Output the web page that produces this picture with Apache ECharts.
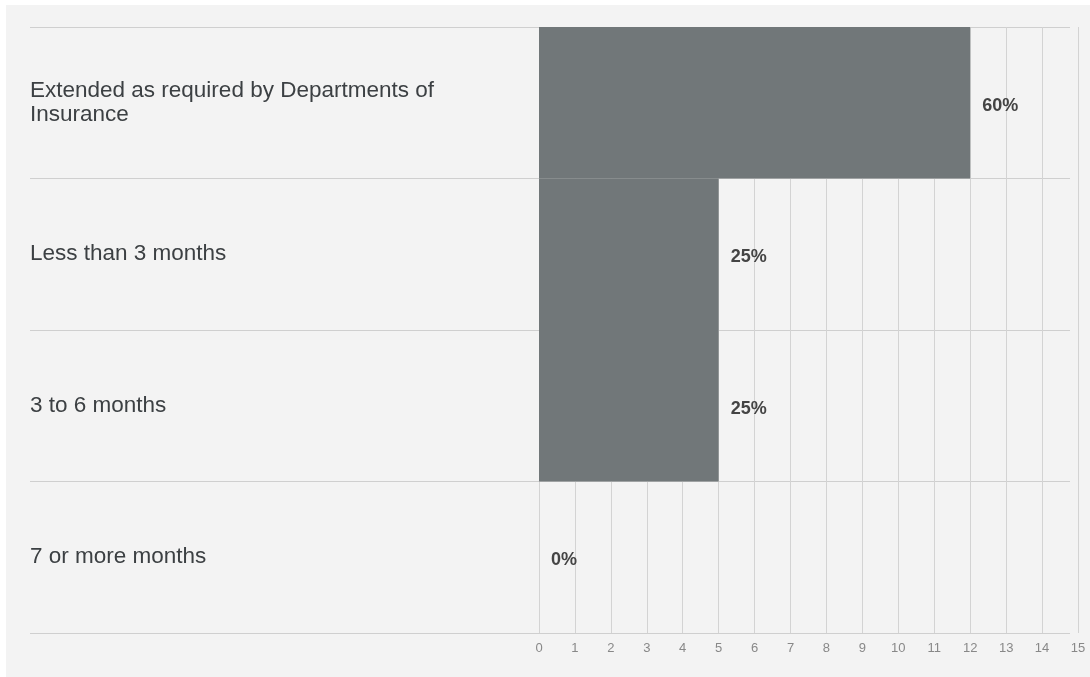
<!DOCTYPE html>
<html lang="en">
<head>
    <meta charset="UTF-8">
    <title>Coverage extension</title>
    <script src="https://cdn.jsdelivr.net/npm/echarts@6/dist/echarts.min.js"></script>
    <style>
        body { margin: 0; background: #ffffff; }
        #main { position: absolute; left: 6px; top: 5px; width: 1084px; height: 672px; background: #f3f3f3; }
    </style>
</head>
<body>
<div id="main"></div>
<script type="text/javascript">
    var categories = ['Extended as required by Departments of Insurance', 'Less than 3 months', '3 to 6 months', '7 or more months'];
    var counts = [12, 5, 5, 0];
    var percents = ['60%', '25%', '25%', '0%'];
    var ticks = [0, 15, 1];

    var myChart = echarts.init(document.getElementById('main'));

    var option = {
        animation: false,
        grid: [
            {left: 533, right: 12, top: 22, bottom: 44},
            {left: 24, right: 20, top: 22, bottom: 44}
        ],
        xAxis: [{
            gridIndex: 0,
            type: 'value',
            min: ticks[0],
            max: ticks[1],
            interval: ticks[2],
            axisLine: {show: false},
            axisTick: {show: false},
            axisLabel: {color: '#888', fontSize: 13, margin: 9, fontFamily: 'Liberation Sans'},
            splitLine: {show: true, lineStyle: {color: '#d3d3d3', width: 1}}
        }, {
            gridIndex: 1,
            type: 'value',
            show: false
        }],
        yAxis: [{
            gridIndex: 0,
            type: 'category',
            inverse: true,
            data: categories,
            axisLine: {show: false},
            axisTick: {show: false},
            axisLabel: {
                align: 'left',
                margin: 509,
                color: '#3c4043',
                fontSize: 22.5,
                fontFamily: 'Liberation Sans',
                width: 430,
                overflow: 'break',
                lineHeight: 24
            },
            splitLine: {show: false}
        }, {
            gridIndex: 1,
            type: 'category',
            inverse: true,
            data: categories,
            axisLine: {show: false},
            axisTick: {show: false},
            axisLabel: {show: false},
            splitLine: {show: true, lineStyle: {color: '#cfcfcf', width: 1}}
        }],
        series: [{
            name: 'count',
            type: 'bar',
            xAxisIndex: 0,
            yAxisIndex: 0,
            data: counts,
            barWidth: '100%',
            z: 3,
            itemStyle: {color: '#717779'},
            label: {
                show: true,
                position: 'right',
                distance: 12,
                offset: [0, 3],
                color: '#444',
                fontSize: 18,
                fontWeight: 'bold',
                fontFamily: 'Liberation Sans',
                formatter: function (p) { return percents[p.dataIndex]; }
            }
        }]
    };

    myChart.setOption(option);
</script>
</body>
</html>
